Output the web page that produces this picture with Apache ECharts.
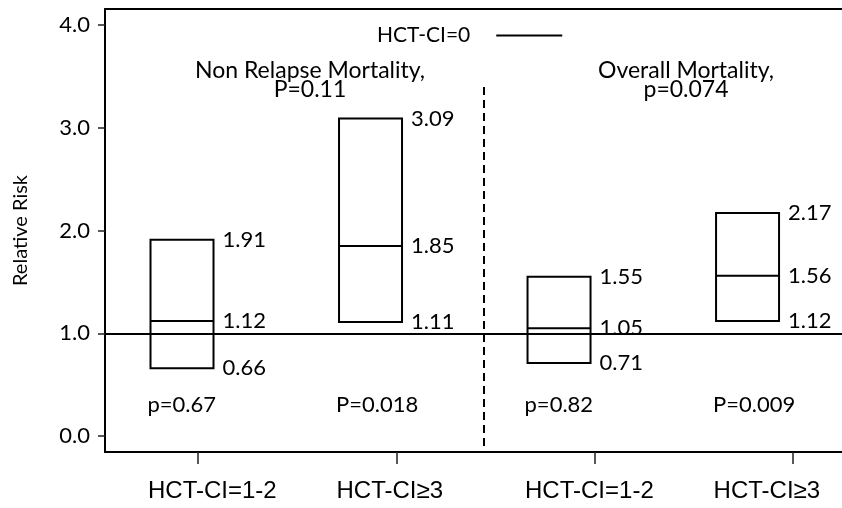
<!DOCTYPE html>
<html>
<head>
<meta charset="utf-8">
<script src="https://cdn.jsdelivr.net/npm/echarts@6/dist/echarts.min.js"></script>
<style>html,body{margin:0;padding:0;background:#fff;}#chart{width:842px;height:508px;}</style>
</head>
<body>
<div id="chart"></div>
<script>
// ---- data ----
const categories = ['HCT-CI=1-2', 'HCT-CI\u22653', 'HCT-CI=1-2', 'HCT-CI\u22653'];
const lowerCI = [0.66, 1.11, 0.71, 1.12];
const relativeRisk = [1.12, 1.85, 1.05, 1.56];
const upperCI = [1.91, 3.09, 1.55, 2.17];
const pValues = ['p=0.67', 'P=0.018', 'p=0.82', 'P=0.009'];
const panelTitles = ['Non Relapse Mortality,\nP=0.11', 'Overall Mortality,\np=0.074'];
const yTickValues = [0, 1, 2, 3, 4];
const referenceName = 'HCT-CI=0';
const referenceValue = 1;

// ---- layout / style ----
const CAL = 'Lato, "Open Sans", sans-serif';
const CAL_SIZE = 22;
const BOX_W = 63;
const P_LABEL_Y = 0.30;
const DIVIDER_X = 2.441;
const DIVIDER_TOP = 3.395;
const Y_MIN = -0.155, Y_MAX = 4.155;
const GRID_LEFT = 105, GRID_W = 737;
const X_MIN = 0.531, X_MAX = 4.246;      // tick axis
const B_MIN = 0.5915, B_MAX = 4.501;     // box axis
const LABEL_SHIFT_PX = -34;              // category labels start left of box centre

const tickValues = categories.map((c, i) => i + 1);
// category label anchor (left edge) expressed on the tick axis
const labelValues = tickValues.map(v => {
  const boxPx = GRID_LEFT + (v - B_MIN) / (B_MAX - B_MIN) * GRID_W;
  return X_MIN + (boxPx + LABEL_SHIFT_PX - GRID_LEFT) / GRID_W * (X_MAX - X_MIN);
});

const chart = echarts.init(document.getElementById('chart'), null, {renderer: 'canvas'});

const boxData = categories.map((c, i) => [i + 1, lowerCI[i], relativeRisk[i], upperCI[i]]);

function renderBox(params, api) {
  const xi = api.value(0);
  const lo = api.value(1), med = api.value(2), hi = api.value(3);
  const pHi = api.coord([xi, hi]);
  const pLo = api.coord([xi, lo]);
  const pMed = api.coord([xi, med]);
  const pP = api.coord([xi, P_LABEL_Y]);
  const x0 = pHi[0] - BOX_W / 2;
  const tx = x0 + BOX_W + 9;
  const font = CAL_SIZE + 'px ' + CAL;
  const mk = (v, y) => ({type: 'text', style: {text: v.toFixed(2), x: tx, y: y, fill: '#000', font: font, align: 'left', verticalAlign: 'middle'}});
  return {
    type: 'group',
    children: [
      {type: 'rect', shape: {x: x0, y: pHi[1], width: BOX_W, height: pLo[1] - pHi[1]}, style: {fill: 'none', stroke: '#000', lineWidth: 2}},
      {type: 'line', shape: {x1: x0, y1: pMed[1], x2: x0 + BOX_W, y2: pMed[1]}, style: {stroke: '#000', lineWidth: 2}},
      mk(hi, pHi[1]), mk(med, pMed[1]), mk(lo, pLo[1]),
      {type: 'text', style: {text: pValues[params.dataIndex], x: x0 - 3, y: pP[1], fill: '#000', font: font, align: 'left', verticalAlign: 'middle'}}
    ]
  };
}

const titleStyle = {fontFamily: CAL, fontSize: 23, fontWeight: 'normal', color: '#000', lineHeight: 19};

function nearestLabel(v) {
  let best = 0;
  labelValues.forEach((lv, i) => { if (Math.abs(lv - v) < Math.abs(labelValues[best] - v)) best = i; });
  return categories[best];
}

const option = {
  animation: false,
  backgroundColor: '#fff',
  title: [
    {text: panelTitles[0], left: 310, top: 61, textAlign: 'center', padding: 0, textStyle: titleStyle},
    {text: panelTitles[1], left: 686, top: 61, textAlign: 'center', padding: 0, textStyle: titleStyle}
  ],
  legend: {
    left: 377, top: 25, padding: 0, align: 'right',
    icon: 'rect', itemWidth: 66, itemHeight: 2,
    textStyle: {fontFamily: CAL, fontSize: 21, color: '#000', padding: [0, 21, 0, 0]},
    data: [referenceName]
  },
  grid: {left: GRID_LEFT, right: 0, top: 9, bottom: 56, containLabel: false, outerBoundsMode: 'none'},
  xAxis: [
    {
      type: 'value', min: X_MIN, max: X_MAX, position: 'bottom',
      axisLine: {show: true, onZero: false, lineStyle: {color: '#000', width: 2}},
      axisTick: {show: true, length: 12, customValues: tickValues, lineStyle: {color: '#222', width: 1.5}},
      axisLabel: {show: true, customValues: labelValues, margin: 27, hideOverlap: false, align: 'left',
        formatter: v => nearestLabel(v),
        fontFamily: '"Liberation Sans", Arial, sans-serif', fontSize: 24, color: '#000'},
      splitLine: {show: false}
    },
    {
      type: 'value', min: B_MIN, max: B_MAX, position: 'top',
      axisLine: {show: true, onZero: false, lineStyle: {color: '#000', width: 2}},
      axisTick: {show: false}, axisLabel: {show: false}, splitLine: {show: false}
    }
  ],
  yAxis: {
    type: 'value', min: Y_MIN, max: Y_MAX,
    name: 'Relative Risk', nameLocation: 'middle', nameGap: 74, nameRotate: 90,
    nameTextStyle: {fontFamily: CAL, fontSize: 20, color: '#000'},
    axisLine: {show: true, onZero: false, lineStyle: {color: '#000', width: 2}},
    axisTick: {show: true, length: 7, customValues: yTickValues, lineStyle: {color: '#222', width: 1.5}},
    axisLabel: {show: true, customValues: yTickValues, margin: 15, formatter: v => v.toFixed(1),
      fontFamily: CAL, fontSize: CAL_SIZE, color: '#000'},
    splitLine: {show: false}
  },
  series: [
    {
      name: referenceName, type: 'line', xAxisIndex: 0, data: [], color: '#000',
      symbol: 'none', lineStyle: {color: '#000', width: 2},
      markLine: {
        silent: true, symbol: 'none', label: {show: false},
        lineStyle: {color: '#000', width: 2, type: 'solid'},
        data: [
          {yAxis: referenceValue},
          [{coord: [DIVIDER_X, DIVIDER_TOP], lineStyle: {type: [8, 5], color: '#000', width: 2}}, {coord: [DIVIDER_X, Y_MIN]}]
        ]
      }
    },
    {
      type: 'custom', xAxisIndex: 1, data: boxData, renderItem: renderBox, silent: true
    }
  ]
};
chart.setOption(option);
</script>
</body>
</html>
